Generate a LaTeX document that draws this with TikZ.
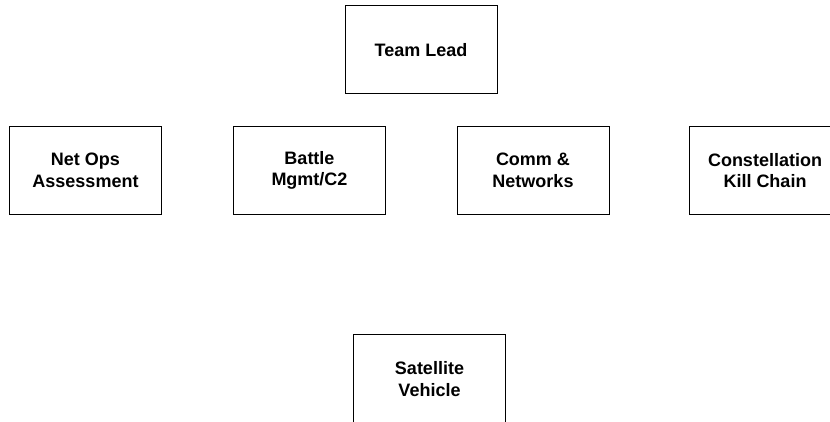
\documentclass[tikz,border=0pt]{standalone}
\usepackage{fontspec}
\setmainfont{Liberation Sans}

\begin{document}
\begin{tikzpicture}[x=1pt,y=-1pt,
  unit/.style={draw,line width=1pt,minimum width=152pt,minimum height=88pt,
    inner sep=0pt,align=center,font=\bfseries\fontsize{18}{21.5}\selectfont}]
\useasboundingbox (0,0) rectangle (830,422);
% top
\node[unit] (lead) at (421,50) {Team Lead};
% middle row
\node[unit] (netops) at (85.5,170.5) {Net Ops\\Assessment};
\node[unit] (battle) at (309.5,170.5) {Battle\\Mgmt/C2};
\node[unit] (comm) at (533,170.5) {Comm \&\\Networks};
\node[unit] (kill) at (765,170.5) {Constellation\\Kill Chain};
% bottom
\node[unit,minimum height=90pt] (sat) at (429.5,379) {Satellite\\Vehicle};
\end{tikzpicture}
\end{document}
